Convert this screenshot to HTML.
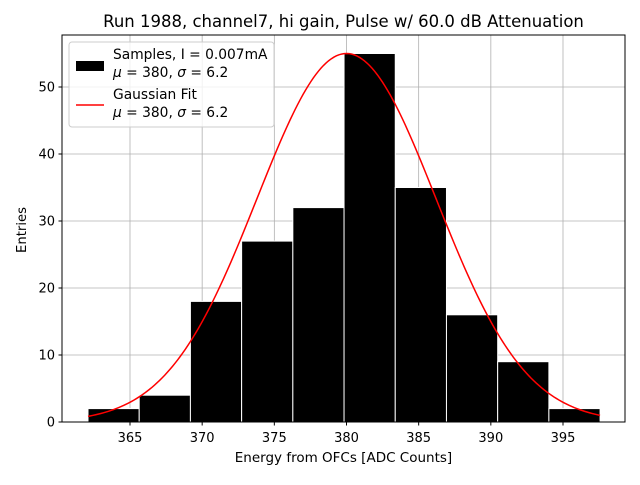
<!DOCTYPE html>
<html><head><meta charset="utf-8"><style>
body{margin:0;background:#fff;width:640px;height:480px;overflow:hidden}
svg text{font-family:"DejaVu Sans","Liberation Sans",sans-serif;fill:#000}
</style></head><body>
<svg id="chart" width="640" height="480" xmlns="http://www.w3.org/2000/svg">
<text x="343.5" y="27" font-size="16.5" text-anchor="middle">Run 1988, channel7, hi gain, Pulse w/ 60.0 dB Attenuation</text>
<g id="grid"></g>
<g id="bars"></g>
<path id="fit" fill="none" stroke="#ff0000" stroke-width="1.5"/>
<rect x="62" y="35" width="563" height="387" fill="none" stroke="#000" stroke-width="1"/>
<g id="ticks"></g>
<text x="343.5" y="462" font-size="13.5" text-anchor="middle">Energy from OFCs [ADC Counts]</text>
<text transform="translate(26,230) rotate(-90)" font-size="13.2" text-anchor="middle">Entries</text>
<g>
<rect x="69" y="42" width="205" height="85" rx="3" fill="#fff" fill-opacity="0.8" stroke="#ccc"/>
<rect x="76" y="61" width="28" height="10" fill="#000"/>
<text x="113" y="59" font-size="13.8">Samples, I = 0.007mA</text>
<text x="113" y="77" font-size="13.8"><tspan font-style="italic">μ</tspan> = 380, <tspan font-style="italic">σ</tspan> = 6.2</text>
<line x1="76" y1="105" x2="104" y2="105" stroke="#ff0000" stroke-width="1.5"/>
<text x="113" y="99" font-size="13.8">Gaussian Fit</text>
<text x="113" y="117" font-size="13.8"><tspan font-style="italic">μ</tspan> = 380, <tspan font-style="italic">σ</tspan> = 6.2</text>
</g>
</svg>
<script>
const binStart = 362.09;
const binWidth = 3.548;
const counts = [2,4,18,27,32,55,35,16,9,2];
const xTicks = [365,370,375,380,385,390,395];
const yTicks = [0,10,20,30,40,50];
const fitMu = 380, fitSigma = 6.2, fitAmp = 55;
const NS='http://www.w3.org/2000/svg';
const X = v => 130 + (v-365)*(563-130)/30;
const Y = v => 422 - v*(422-87)/50;
function mk(tag, attrs, parent){const e=document.createElementNS(NS,tag);for(const k in attrs)e.setAttribute(k,attrs[k]);parent.appendChild(e);return e;}
const grid=document.getElementById('grid'), bars=document.getElementById('bars'), ticks=document.getElementById('ticks');
xTicks.forEach(t=>{
  const g=mk('line',{x1:X(t),x2:X(t),y1:35,y2:422,stroke:'#b0b0b0','stroke-width':0.8},grid);
  
  
  mk('line',{x1:X(t),x2:X(t),y1:422,y2:425.5,stroke:'#000'},ticks);
  const l=mk('text',{x:X(t),y:442,'font-size':13,'text-anchor':'middle'},ticks);l.textContent=t;
  
  
});
yTicks.forEach(t=>{
  const g=mk('line',{x1:62,x2:625,y1:Y(t),y2:Y(t),stroke:'#b0b0b0','stroke-width':0.8},grid);
  
  
  mk('line',{x1:58.5,x2:62,y1:Y(t),y2:Y(t),stroke:'#000'},ticks);
  const l=mk('text',{x:55,y:Y(t)+4.5,'font-size':13,'text-anchor':'end'},ticks);l.textContent=t;
  
  
});
counts.forEach((c,i)=>{
  const x0=X(binStart+i*binWidth), x1=X(binStart+(i+1)*binWidth);
  const r=mk('rect',{x:x0,y:Y(c),width:x1-x0,height:Y(0)-Y(c),fill:'#000',stroke:'#fff','stroke-width':1},bars);
  
  
});
let d='';const lo=binStart, hi=binStart+counts.length*binWidth;
for(let k=0;k<=200;k++){const v=lo+(hi-lo)*k/200;const y=fitAmp*Math.exp(-0.5*((v-fitMu)/fitSigma)**2);d+=(k?'L':'M')+X(v).toFixed(2)+','+Y(y).toFixed(2);}
document.getElementById('fit').setAttribute('d',d);
</script>
</body></html>
